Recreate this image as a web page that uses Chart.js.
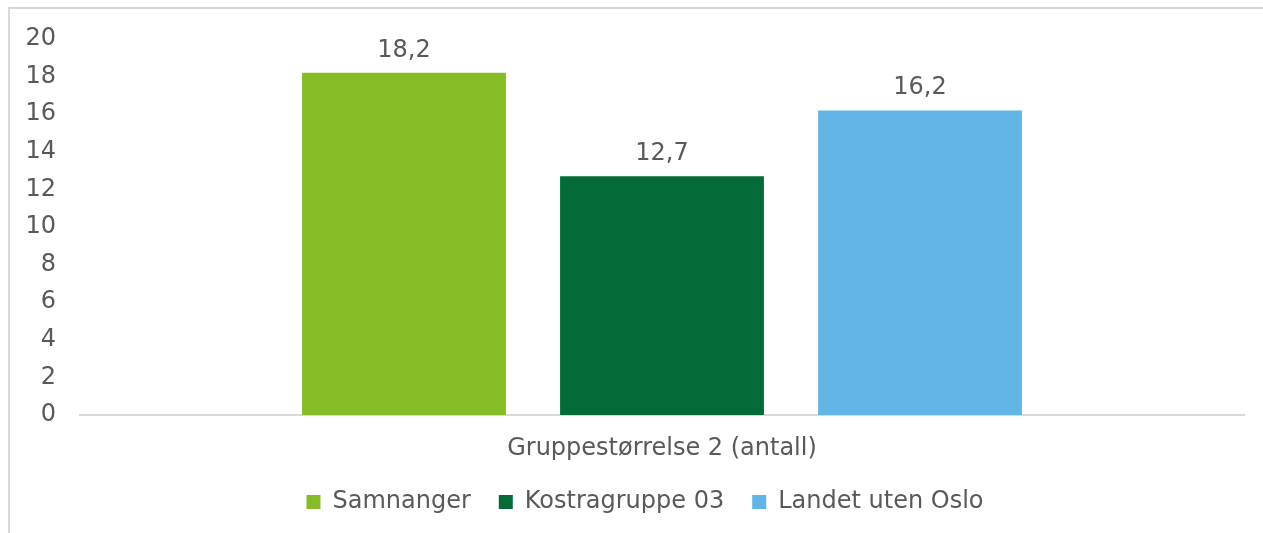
<!DOCTYPE html>
<html>
<head>
<meta charset="utf-8">
<script src="https://cdn.jsdelivr.net/npm/chart.js@4.4.1/dist/chart.umd.min.js"></script>
<style>
  html, body { margin: 0; padding: 0; background: #fff; overflow: hidden; }
  #wrap { position: relative; width: 1263px; height: 533px; overflow: hidden; }
  #frame { position: absolute; left: 8px; top: 7px; width: 1400px; height: 700px;
           border-left: 2px solid #d9d9d9; border-top: 2px solid #d9d9d9; }
  canvas { position: absolute; left: 0; top: 0; }
</style>
</head>
<body>
<div id="wrap">
  <div id="frame"></div>
  <canvas id="chart" width="1263" height="533"></canvas>
</div>
<script>
// data
const categories = ["Gruppestørrelse 2 (antall)"];
const seriesNames = ["Samnanger", "Kostragruppe 03", "Landet uten Oslo"];
const samnanger = [18.2];
const kostra03 = [12.7];
const landet = [16.2];
const colors = ["#86bc25", "#046a38", "#62b5e5"];

const textColor = "#595959";
const fontFamily = "'DejaVu Sans', Verdana, sans-serif";
const fontSize = 24;

// draw the value over each bar, with decimal comma
const valueLabels = {
  id: "valueLabels",
  afterDatasetsDraw(chart) {
    const ctx = chart.ctx;
    ctx.save();
    ctx.font = fontSize + "px " + fontFamily;
    ctx.fillStyle = textColor;
    ctx.textAlign = "center";
    ctx.textBaseline = "alphabetic";
    chart.data.datasets.forEach((ds, i) => {
      const meta = chart.getDatasetMeta(i);
      meta.data.forEach((bar, j) => {
        const txt = ds.data[j].toFixed(1).replace(".", ",");
        ctx.fillText(txt, bar.x, bar.y - 16);
      });
    });
    ctx.restore();
  }
};

// legend in the original sits a bit right of the canvas centre
const legendShift = {
  id: "legendShift",
  afterLayout(chart) {
    if (chart.legend) chart.legend.left += 46;
  }
};

Chart.defaults.font.family = fontFamily;
Chart.defaults.font.size = fontSize;
Chart.defaults.color = textColor;

const ctx = document.getElementById("chart").getContext("2d");
new Chart(ctx, {
  type: "bar",
  data: {
    labels: categories,
    datasets: [
      { label: seriesNames[0], data: samnanger, backgroundColor: colors[0] },
      { label: seriesNames[1], data: kostra03, backgroundColor: colors[1] },
      { label: seriesNames[2], data: landet, backgroundColor: colors[2] }
    ]
  },
  options: {
    responsive: false,
    animation: false,
    categoryPercentage: 0.665,
    barPercentage: 0.79,
    layout: { padding: { left: 0, right: 19, top: 39, bottom: 9 } },
    plugins: {
      tooltip: { enabled: false },
      legend: {
        position: "bottom",
        labels: {
          boxWidth: 14,
          boxHeight: 14,
          padding: 28,
          color: textColor,
          font: { size: fontSize }
        }
      }
    },
    scales: {
      x: {
        grid: { display: false, drawTicks: false },
        border: { display: true, color: "#d9d9d9", width: 2 },
        ticks: { padding: 19, color: textColor },
        afterFit(scale) { scale.height = 47; }
      },
      y: {
        min: 0,
        max: 20,
        grid: { display: false, drawTicks: false },
        border: { display: false },
        ticks: { stepSize: 2, padding: 24, color: textColor },
        afterFit(scale) { scale.width = 80; }
      }
    }
  },
  plugins: [valueLabels, legendShift]
});
</script>
</body>
</html>
